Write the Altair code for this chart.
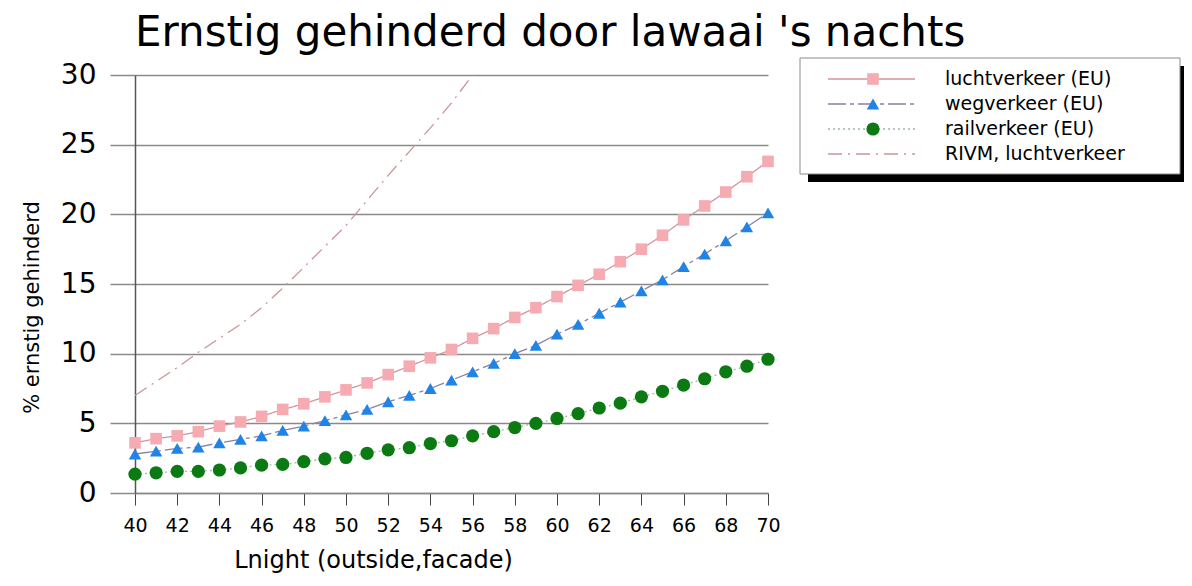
import altair as alt
import pandas as pd

# ---- data ----
lnight = list(range(40, 71))
lucht = [3.6, 3.9, 4.1, 4.4, 4.8, 5.1, 5.5, 6.0, 6.4, 6.9, 7.4, 7.9, 8.5, 9.1, 9.7,
         10.3, 11.1, 11.8, 12.6, 13.3, 14.1, 14.9, 15.7, 16.6, 17.5, 18.5, 19.6, 20.6, 21.6, 22.7, 23.8]
weg = [2.8, 3.0, 3.2, 3.3, 3.6, 3.85, 4.1, 4.5, 4.8, 5.2, 5.6, 6.0, 6.55, 7.0, 7.5,
       8.1, 8.7, 9.3, 10.0, 10.6, 11.4, 12.1, 12.9, 13.7, 14.5, 15.3, 16.25, 17.15, 18.1, 19.1, 20.1]
rail = [1.35, 1.45, 1.55, 1.55, 1.65, 1.8, 2.0, 2.05, 2.25, 2.45, 2.55, 2.85, 3.1, 3.25, 3.55,
        3.75, 4.1, 4.4, 4.7, 5.0, 5.35, 5.7, 6.1, 6.45, 6.9, 7.3, 7.75, 8.2, 8.7, 9.1, 9.6]
rivm_lnight = list(range(40, 57))
rivm = [7.0, 8.0, 9.0, 10.1, 11.1, 12.1, 13.3, 14.7, 16.2, 17.7, 19.2, 21.0, 22.8, 24.5, 26.2, 28.0, 30.0]

series_names = ["luchtverkeer (EU)", "wegverkeer (EU)", "railverkeer (EU)", "RIVM, luchtverkeer"]
marker_series = series_names[:3]

title_text = "Ernstig gehinderd door lawaai 's nachts"
x_title = "Lnight (outside,facade)"
y_title = "% ernstig gehinderd"
x_ticks = list(range(40, 71, 2))
y_ticks = list(range(0, 31, 5))

# ---- styles ----
line_colors = ["#d4949b", "#8a7fa6", "#9dbb9d", "#c99597"]
dashes = [[1, 0], [18, 4, 4, 4], [2, 3], [14, 6, 2, 6]]
fill_colors = ["#f5abb1", "#1f84e6", "#0b7a12"]
shapes = ["square", "triangle-up", "circle"]
marker_sizes = [135, 175, 135]
FONT = "DejaVu Sans"

rows = []
for name, xs, ys in [(series_names[0], lnight, lucht), (series_names[1], lnight, weg),
                     (series_names[2], lnight, rail), (series_names[3], rivm_lnight, rivm)]:
    for xv, yv in zip(xs, ys):
        rows.append({"series": name, "lnight": xv, "pct": yv})
df = pd.DataFrame(rows)
legend_df = pd.DataFrame({"series": series_names})

stroke_enc = alt.Stroke("series:N", scale=alt.Scale(domain=series_names, range=line_colors), legend=None)
dash_enc = alt.StrokeDash("series:N", scale=alt.Scale(domain=series_names, range=dashes), legend=None)
fill_enc = alt.Fill("series:N", scale=alt.Scale(domain=marker_series, range=fill_colors), legend=None)
shape_enc = alt.Shape("series:N", scale=alt.Scale(domain=marker_series, range=shapes), legend=None)
size_enc = alt.Size("series:N", scale=alt.Scale(domain=marker_series, range=marker_sizes), legend=None)

x_enc = alt.X("lnight:Q", scale=alt.Scale(domain=[40, 70], nice=False, zero=False),
              axis=alt.Axis(values=x_ticks, grid=False, domainColor="#8a8a8a", domainWidth=1.5,
                            tickColor="#444", tickSize=12, tickWidth=1,
                            labelFont=FONT, labelFontSize=19, labelColor="black", labelPadding=11,
                            labelFlush=False, labelOverlap=False,
                            title=x_title, titleFont=FONT, titleFontSize=24, titleFontWeight="normal",
                            titleColor="black", titleX=238, titleY=74, titleBaseline="alphabetic",
                            titleAlign="center"))
y_enc = alt.Y("pct:Q", scale=alt.Scale(domain=[0, 30], nice=False),
              axis=alt.Axis(values=y_ticks, grid=True, gridColor="#8a8a8a", gridWidth=1.5,
                            domainColor="#555", domainWidth=1.5,
                            tickColor="#8a8a8a", tickSize=25, tickWidth=1.5,
                            labelFont=FONT, labelFontSize=28, labelColor="black", labelPadding=14,
                            title=y_title, titleFont=FONT, titleFontSize=21, titleFontWeight="normal",
                            titleColor="black", titleX=-97, titleY=232, titleAngle=270,
                            titleBaseline="alphabetic", titleAlign="center"))

lines = alt.Chart(df).mark_line(strokeWidth=1.3).encode(
    x=x_enc, y=y_enc, stroke=stroke_enc, strokeDash=dash_enc, order="lnight:Q")

points = alt.Chart(df).transform_filter(
    alt.FieldOneOfPredicate(field="series", oneOf=marker_series)
).mark_point(filled=True, opacity=1, strokeWidth=0).encode(
    x="lnight:Q", y="pct:Q", fill=fill_enc, shape=shape_enc, size=size_enc)

main = alt.layer(lines, points)

# ---- legend panel ----
box_df = pd.DataFrame({"box": [1]})
shadow = alt.Chart(box_df).mark_rect(color="black").encode(
    x=alt.value(673), x2=alt.value(1053), y=alt.value(-9), y2=alt.value(107))
box = alt.Chart(box_df).mark_rect(fill="white", stroke="#8a8a8a", strokeWidth=1).encode(
    x=alt.value(665), x2=alt.value(1045), y=alt.value(-17), y2=alt.value(99))

leg_y = alt.Y("series:N", scale=alt.Scale(type="point", domain=series_names, range=[4, 79],
                                          padding=0), axis=None)
leg_rules = alt.Chart(legend_df).mark_rule(strokeWidth=1.3).encode(
    x=alt.value(693), x2=alt.value(780), y=leg_y, stroke=stroke_enc, strokeDash=dash_enc)
leg_points = alt.Chart(legend_df).transform_filter(
    alt.FieldOneOfPredicate(field="series", oneOf=marker_series)
).mark_point(filled=True, opacity=1, strokeWidth=0).encode(
    x=alt.value(738), y=leg_y, fill=fill_enc, shape=shape_enc, size=size_enc)
leg_text = alt.Chart(legend_df).mark_text(align="left", baseline="middle", font=FONT,
                                          fontSize=19, color="black").encode(
    x=alt.value(810), y=leg_y, text="series:N")

legend = alt.layer(shadow, box, leg_rules, leg_points, leg_text)

chart = alt.layer(main, legend).resolve_scale(y="independent").properties(
    width=633, height=418,
    title=alt.Title(title_text, anchor="start", frame="group", font=FONT, fontSize=42,
                    fontWeight="normal", color="black", baseline="alphabetic", offset=-30),
    autosize=alt.AutoSizeParams(type="none"),
    padding={"left": 127, "top": 67, "right": 416, "bottom": 80},
).configure_view(stroke=None)

chart.save("out.html", embed_options={"renderer": "svg", "actions": False})
